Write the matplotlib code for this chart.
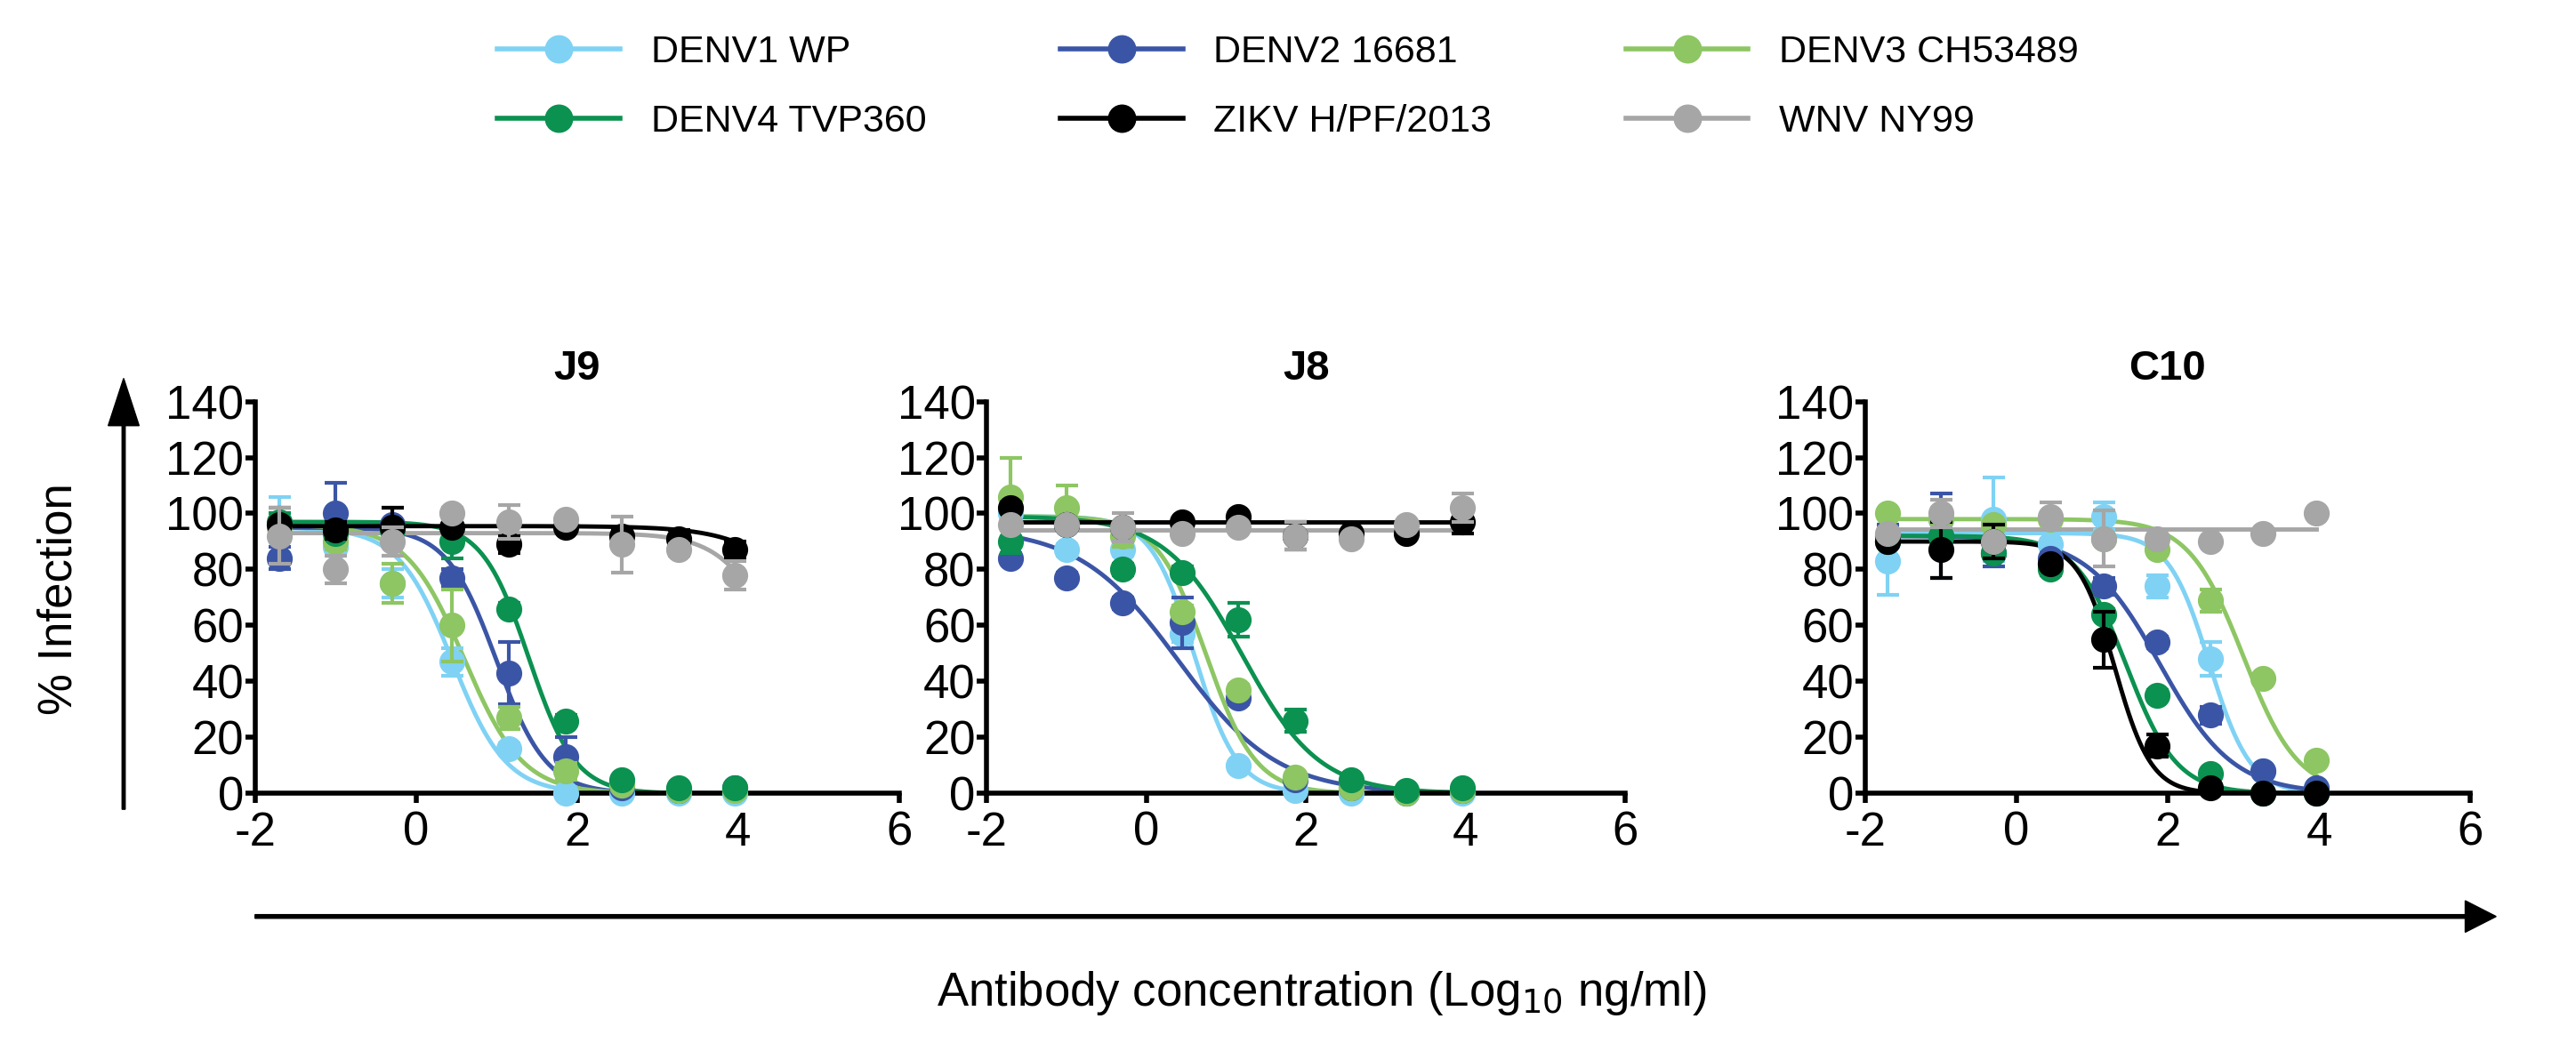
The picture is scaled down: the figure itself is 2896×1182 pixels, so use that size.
import numpy as np
import matplotlib.pyplot as plt
from matplotlib.lines import Line2D
from matplotlib.patches import FancyArrow

plt.rcParams['font.family'] = ['Liberation Sans', 'DejaVu Sans']
plt.rcParams['axes.unicode_minus'] = False

# log10 antibody concentration of each dilution
conc = [-1.7, -1.0, -0.3, 0.45, 1.15, 1.86, 2.56, 3.26, 3.96]

virus_names = ['DENV1 WP', 'DENV2 16681', 'DENV3 CH53489',
               'DENV4 TVP360', 'ZIKV H/PF/2013', 'WNV NY99']
virus_colors = ['#7fd2f4', '#3b55a6', '#8dc663', '#0b9150', '#000000', '#a6a6a6']
panel_titles = ['J9', 'J8', 'C10']

# % infection per virus (same order as virus_names)
j9_vals = [[96, 88, 75, 47, 16, 0, 0, 0, 0],
           [84, 100, 96, 77, 43, 13, 2, 1, 2],
           [95, 90, 75, 60, 27, 8, 3, 1, 1],
           [97, 93, 94, 90, 66, 26, 5, 2, 2],
           [96, 94, 95, 95, 89, 95, 92, 91, 87],
           [92, 80, 90, 100, 97, 98, 89, 87, 78]]
j9_err = [[10, 8, 5, 5, 2, 1, 1, 1, 1],
          [4, 11, 6, 3, 11, 7, 1, 1, 1],
          [3, 3, 7, 13, 4, 3, 1, 1, 1],
          [3, 3, 3, 6, 2, 2, 1, 1, 1],
          [6, 3, 7, 1, 3, 1, 2, 3, 3],
          [10, 5, 5, 2, 6, 1, 10, 2, 5]]

j8_vals = [[100, 87, 87, 57, 10, 1, 0, 0, 0],
           [84, 77, 68, 61, 34, 5, 2, 0, 1],
           [106, 102, 92, 65, 37, 6, 2, 0, 1],
           [90, 96, 80, 79, 62, 26, 5, 1, 2],
           [102, 96, 95, 97, 99, 92, 93, 93, 97],
           [96, 96, 95, 93, 95, 92, 91, 96, 102]]
j8_err = [[2, 2, 2, 3, 1, 1, 1, 1, 1],
          [2, 2, 2, 9, 2, 1, 1, 1, 1],
          [14, 8, 4, 2, 2, 1, 1, 1, 1],
          [4, 2, 2, 2, 6, 4, 1, 1, 1],
          [2, 2, 2, 1, 1, 5, 1, 1, 4],
          [2, 2, 5, 1, 1, 5, 1, 1, 5]]

c10_vals = [[83, 98, 98, 89, 99, 74, 48, 8, 1],
            [92, 92, 86, 84, 74, 54, 28, 8, 2],
            [100, 98, 96, 98, 91, 87, 69, 41, 12],
            [90, 92, 86, 80, 64, 35, 7, 0, 0],
            [90, 87, 90, 82, 55, 17, 2, 0, 0],
            [93, 100, 90, 99, 91, 91, 90, 93, 100]]
c10_err = [[12, 4, 15, 2, 5, 4, 6, 1, 1],
           [4, 15, 5, 2, 3, 2, 3, 1, 1],
           [1, 1, 1, 2, 2, 1, 4, 1, 1],
           [2, 2, 2, 2, 2, 2, 1, 1, 1],
           [2, 10, 6, 2, 10, 4, 1, 1, 1],
           [1, 5, 1, 5, 10, 1, 1, 1, 1]]

# fitted 4-parameter curves: top, log IC50, hill slope (bottom = 0; hill 0 = flat line at top)
j9_fit = [[95, 0.45, 1.3], [95, 1.0, 1.4], [96, 0.6, 1.2],
          [97, 1.4, 1.5], [95.5, 5.3, 0.9], [93, 4.6, 1.2]]
j8_fit = [[99, 0.6, 1.6], [95, 0.4, 0.7], [99, 0.75, 1.4],
          [99, 1.2, 0.9], [97, 0, 0], [94, 0, 0]]
c10_fit = [[93, 2.55, 1.6], [92, 1.9, 0.9], [98, 3.0, 1.2],
           [92, 1.45, 1.3], [90, 1.3, 1.8], [94.5, 0, 0]]

panel_vals = [j9_vals, j8_vals, c10_vals]
panel_err = [j9_err, j8_err, c10_err]
panel_fit = [j9_fit, j8_fit, c10_fit]


def four_pl(x, top, ic50, hill):
    if hill == 0:
        return np.full_like(x, top)
    return top / (1 + 10 ** ((x - ic50) * hill))


fig = plt.figure(figsize=(28.96, 11.82), dpi=100)
ax_boxes = [[0.099, 0.245, 0.25, 0.373],
            [0.383, 0.245, 0.248, 0.373],
            [0.724, 0.245, 0.235, 0.373]]

xs = np.linspace(conc[0], conc[-1], 300)
for p in range(3):
    ax = fig.add_axes(ax_boxes[p])
    for i in range(len(virus_names)):
        c = virus_colors[i]
        top, ic, h = panel_fit[p][i]
        ax.plot(xs, four_pl(xs, top, ic, h), color=c, lw=3.5, zorder=2 + i * 0.1)
        ax.errorbar(conc, panel_vals[p][i], yerr=panel_err[p][i], fmt='o',
                    color=c, ms=20, elinewidth=3, capsize=9, capthick=3,
                    zorder=3 + i * 0.1, clip_on=False)
    ax.set_xlim(-2, 6)
    ax.set_ylim(0, 140)
    ax.set_xticks([-2, 0, 2, 4, 6])
    ax.set_yticks(range(0, 141, 20))
    ax.tick_params(labelsize=38, width=4, length=8, pad=1)
    ax.tick_params(axis='x', pad=6)
    for s in ['top', 'right']:
        ax.spines[s].set_visible(False)
    for s in ['left', 'bottom']:
        ax.spines[s].set_linewidth(4)
    ax.set_title(panel_titles[p], fontsize=34, fontweight='bold', pad=18)

# big axis arrows
fig.patches.append(FancyArrow(
    0.048, 0.23, 0, 0.41, width=0.0012, head_width=0.012, head_length=0.045,
    color='black', transform=fig.transFigure, length_includes_head=True))
fig.patches.append(FancyArrow(
    0.099, 0.128, 0.87, 0, width=0.0035, head_width=0.03, head_length=0.012,
    color='black', transform=fig.transFigure, length_includes_head=True))
fig.text(0.023, 0.43, '% Infection', rotation=90, ha='center', va='center',
         fontsize=38)
fig.text(0.513, 0.055, 'Antibody concentration (Log$_{10}$ ng/ml)',
         ha='center', va='center', fontsize=38)

handles = [Line2D([], [], color=virus_colors[i], lw=4, marker='o', ms=22)
           for i in range(len(virus_names))]
order = [0, 3, 1, 4, 2, 5]
fig.legend([handles[i] for i in order], [virus_names[i] for i in order],
           ncol=3, loc='upper center', bbox_to_anchor=(0.5, 1.0),
           frameon=False, handlelength=3.2, columnspacing=3.5,
           labelspacing=0.9, prop={'size': 31})

fig.savefig('out.png', dpi=100)
